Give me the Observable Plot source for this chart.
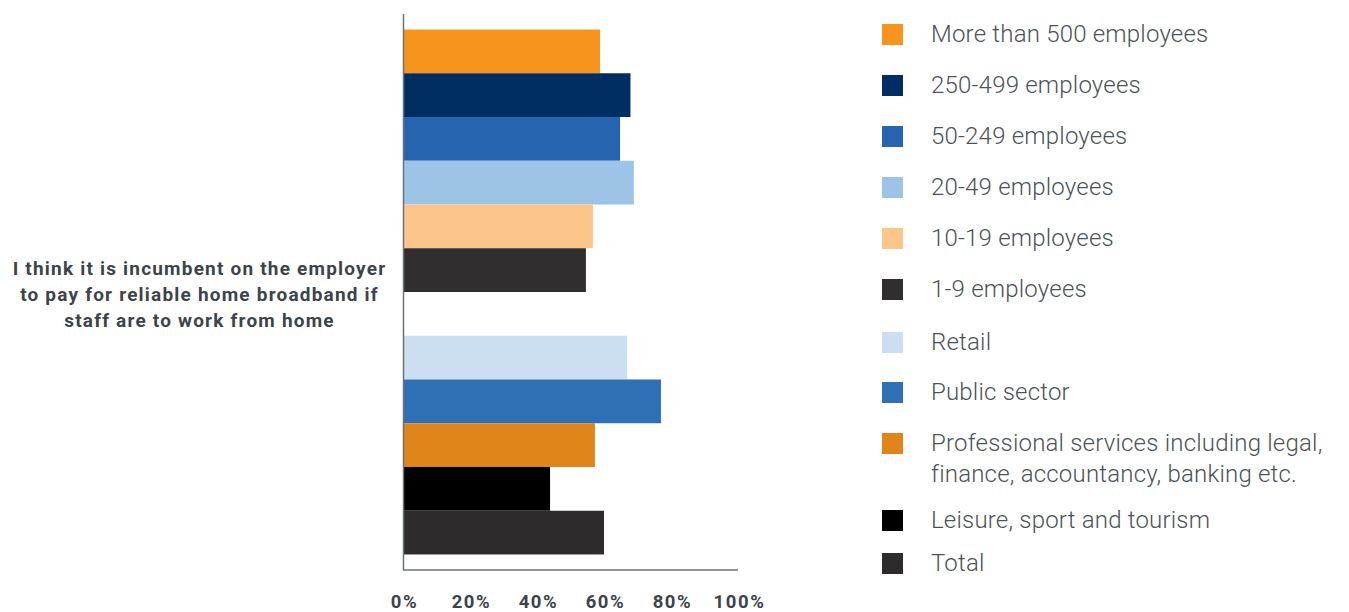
<!DOCTYPE html>
<html>
<head>
<meta charset="utf-8">
<script src="https://cdn.jsdelivr.net/npm/d3@7"></script>
<script src="https://cdn.jsdelivr.net/npm/@observablehq/plot@0.6"></script>
<style>
  html, body { margin: 0; padding: 0; background: #fff; }
  #wrap { position: relative; width: 1349px; height: 612px; font-family: Roboto, "Open Sans", sans-serif; }
  #chart svg { display: block; }
  #chart svg g[aria-label="text"] text { letter-spacing: 1.2px; }
  #chart svg g[aria-label="x-axis tick label"] text { letter-spacing: 1.6px; }
  #legend { position: absolute; left: 882px; top: 0; }
  .item { position: absolute; left: 0; white-space: nowrap; }
  .sw { position: absolute; left: 0; width: 21px; height: 21px; }
  .lab { position: absolute; left: 49px; font-size: 24px; font-weight: 300; color: #4b5358; line-height: 31px; letter-spacing: 0.2px; }
</style>
</head>
<body>
<div id="wrap">
  <div id="chart"></div>
  <div id="legend"></div>
</div>
<script>
// ---- data ----
const question = ["I think it is incumbent on the employer", "to pay for reliable home broadband if", "staff are to work from home"];
const categories = [
  "More than 500 employees",
  "250-499 employees",
  "50-249 employees",
  "20-49 employees",
  "10-19 employees",
  "1-9 employees",
  "Retail",
  "Public sector",
  "Professional services including legal, finance, accountancy, banking etc.",
  "Leisure, sport and tourism",
  "Total"
];
const values = [0.588, 0.679, 0.648, 0.689, 0.567, 0.546, 0.669, 0.770, 0.573, 0.439, 0.600];
const colors = ["#F7941D", "#002D62", "#2764B0", "#9DC3E6", "#FCC68B", "#302E2F", "#CCDFF2", "#2E70B5", "#DF8519", "#000000", "#2D2B2C"];
const legendLines = [
  ["More than 500 employees"],
  ["250-499 employees"],
  ["50-249 employees"],
  ["20-49 employees"],
  ["10-19 employees"],
  ["1-9 employees"],
  ["Retail"],
  ["Public sector"],
  ["Professional services including legal,", "finance, accountancy, banking etc."],
  ["Leisure, sport and tourism"],
  ["Total"]
];
const xTicks = [0, 0.2, 0.4, 0.6, 0.8, 1.0];
const gapKey = "gap";
const gapAfter = 5; // index after which the empty slot sits

// ---- build ----
const rows = categories.map((c, i) => ({category: c, value: values[i], color: colors[i]}));
const yDomain = [...categories.slice(0, gapAfter + 1), gapKey, ...categories.slice(gapAfter + 1)];

const axisLine = (index, scales, values, dimensions) => {
  const yb = dimensions.height - dimensions.marginBottom;
  const g = document.createElementNS("http://www.w3.org/2000/svg", "line");
  g.setAttribute("x1", scales.x(0));
  g.setAttribute("x2", scales.x(1));
  g.setAttribute("y1", yb);
  g.setAttribute("y2", yb);
  g.setAttribute("stroke", "#6b7378");
  g.setAttribute("stroke-width", 1.5);
  return g;
};

const plot = Plot.plot({
  width: 1349,
  height: 612,
  marginLeft: 403,
  marginRight: 611,
  marginTop: 14,
  marginBottom: 42,
  style: {fontFamily: "Roboto, sans-serif", color: "#3c4449", background: "transparent"},
  x: {domain: [0, 1], axis: null},
  y: {type: "band", domain: yDomain, paddingInner: 0, paddingOuter: 0.355, round: false, axis: null},
  marks: [
    Plot.barX(rows, {y: "category", x: "value", fill: "color"}),
    Plot.ruleX([0], {stroke: "#6b7378", strokeWidth: 1.5}),
    axisLine,
    Plot.axisX({ticks: xTicks, tickFormat: d3.format(".0%"), tickSize: 0, tickPadding: 24, label: null,
                fontSize: 18.5, fontWeight: "bold", fill: "#3c4449", dx: 1}),
    Plot.text([question.join("\n")], {
      frameAnchor: "left", dx: -204, textAnchor: "middle", lineHeight: 1.37,
      fontSize: 19, fontWeight: "bold", fill: "#3c4449"
    })
  ]
});
document.getElementById("chart").appendChild(plot);

// ---- legend ----
const legendTops = [34, 85, 136, 187, 238, 289, 342, 392, 443, 520, 563];
const legend = document.getElementById("legend");
legendLines.forEach((lines, i) => {
  const cy = legendTops[i];
  const it = document.createElement("div");
  it.className = "item";
  it.style.top = "0px";
  const sw = document.createElement("div");
  sw.className = "sw";
  sw.style.background = colors[i];
  sw.style.top = (cy - 10.5) + "px";
  it.appendChild(sw);
  const lab = document.createElement("div");
  lab.className = "lab";
  lab.style.top = (cy - 15.5) + "px";
  lab.innerHTML = lines.join("<br>");
  it.appendChild(lab);
  legend.appendChild(it);
});
</script>
</body>
</html>
